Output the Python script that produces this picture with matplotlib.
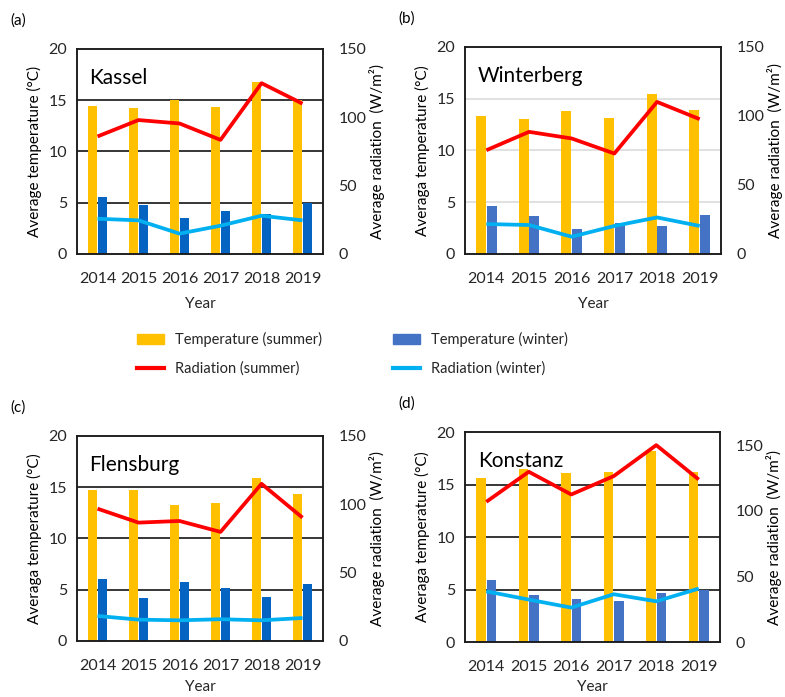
import numpy as np
import matplotlib
matplotlib.use("Agg")
from matplotlib import pyplot as plt
from matplotlib.patches import Patch
from matplotlib.lines import Line2D

plt.rcParams['font.family'] = ['Lato', 'DejaVu Sans']

years = ["2014", "2015", "2016", "2017", "2018", "2019"]

# mean temperature (degC) and radiation (W/m2) per season
kassel_temp_summer = [14.45, 14.2, 15.0, 14.3, 16.8, 15.0]
kassel_temp_winter = [5.6, 4.8, 3.5, 4.2, 3.9, 5.0]
kassel_rad_summer = [86, 98, 95.5, 83.5, 125, 110]
kassel_rad_winter = [25.8, 24.6, 14.9, 20.7, 28, 24.6]

winterberg_temp_summer = [13.3, 13.0, 13.8, 13.15, 15.5, 13.9]
winterberg_temp_winter = [4.65, 3.7, 2.4, 3.0, 2.75, 3.75]
winterberg_rad_summer = [75.2, 88.5, 83.7, 72.8, 110.2, 97.7]
winterberg_rad_winter = [21.7, 21.0, 12.5, 20.3, 26.5, 20.3]

flensburg_temp_summer = [14.7, 14.7, 13.3, 13.5, 15.9, 14.3]
flensburg_temp_winter = [6.0, 4.2, 5.8, 5.2, 4.3, 5.6]
flensburg_rad_summer = [96.8, 86.6, 87.8, 79.8, 115, 90.2]
flensburg_rad_winter = [18.3, 15.6, 15.1, 15.9, 15.1, 16.8]

konstanz_temp_summer = [15.6, 16.5, 16.05, 16.2, 18.15, 16.2]
konstanz_temp_winter = [5.95, 4.5, 4.1, 3.95, 4.65, 5.0]
konstanz_rad_summer = [106.8, 129.7, 112.4, 126.4, 150, 123.8]
konstanz_rad_winter = [38.6, 32.3, 26.2, 36.4, 31, 40.7]

ORANGE = "#FFC000"
DARKBLUE = "#0563C1"
MIDBLUE = "#4472C4"
RED = "#FF0000"
LIGHTBLUE = "#00B0F0"
TXT = "#262626"


def draw_panel(pos, letter, city, t_sum, t_win, r_sum, r_win,
               win_color, grid_color, ylabel, rad_max, xlabelpad=8):
    ax = fig.add_axes(pos)
    x = np.arange(len(years))
    w = 0.23
    ax.bar(x - w / 2 - 0.01, t_sum, w, color=ORANGE, zorder=2)
    ax.bar(x + w / 2 + 0.01, t_win, w, color=win_color, zorder=2)
    ax.set_xlim(-0.5, len(years) - 0.5)
    ax.set_ylim(0, 20)
    ax.set_yticks([0, 5, 10, 15, 20])
    ax.set_xticks(x)
    ax.set_xticklabels(years)
    for yv in [5, 10, 15]:
        ax.axhline(yv, color=grid_color, lw=1.1, zorder=1)
    ax.tick_params(axis='both', length=0, labelsize=11.5, colors=TXT)
    ax.tick_params(axis='x', pad=13)
    ax.tick_params(axis='y', pad=7)
    ax.set_xlabel("Year", fontsize=11, color=TXT, labelpad=xlabelpad)
    ax.set_ylabel(ylabel, fontsize=11, color="black", labelpad=5)
    ax.text(0.05, 0.86, city, transform=ax.transAxes, fontsize=15,
            color="black", ha="left", va="center")

    ax2 = ax.twinx()
    ax2.plot(x, r_sum, color=RED, lw=2.7, solid_capstyle='butt')
    ax2.plot(x, r_win, color=LIGHTBLUE, lw=2.7, solid_capstyle='butt')
    ax2.set_ylim(0, rad_max)
    ax2.set_yticks([0, 50, 100, 150])
    ax2.tick_params(axis='y', length=0, labelsize=11.5, colors=TXT, pad=11)
    ax2.set_ylabel("Average radiation  (W/m²)", fontsize=11, labelpad=2)

    for a in (ax, ax2):
        for s in a.spines.values():
            s.set_color("#1a1a1a")
            s.set_linewidth(1.1)

    fig.text(pos[0] - 0.085, pos[1] + pos[3] + 0.041, letter, fontsize=11,
             ha="left", va="center")
    return ax


fig = plt.figure(figsize=(7.85, 6.97), dpi=100)

draw_panel([0.0981, 0.6356, 0.3134, 0.2941], "(a)", "Kassel",
           kassel_temp_summer, kassel_temp_winter,
           kassel_rad_summer, kassel_rad_winter,
           DARKBLUE, "black", "Average temperature (°C)", 150)
draw_panel([0.5924, 0.6356, 0.3261, 0.2970], "(b)", "Winterberg",
           winterberg_temp_summer, winterberg_temp_winter,
           winterberg_rad_summer, winterberg_rad_winter,
           MIDBLUE, "#D9D9D9", "Averaga temperature (°C)", 150)
draw_panel([0.0981, 0.0804, 0.3134, 0.2941], "(c)", "Flensburg",
           flensburg_temp_summer, flensburg_temp_winter,
           flensburg_rad_summer, flensburg_rad_winter,
           DARKBLUE, "black", "Averaga temperature (°C)", 150, xlabelpad=5)
draw_panel([0.5924, 0.0789, 0.3248, 0.3013], "(d)", "Konstanz",
           konstanz_temp_summer, konstanz_temp_winter,
           konstanz_rad_summer, konstanz_rad_winter,
           MIDBLUE, "black", "Averaga temperature (°C)", 160, xlabelpad=4)

# shared legend, two columns placed separately
col1 = [Patch(color=ORANGE, label="Temperature (summer)"),
        Line2D([], [], color=RED, lw=3, label="Radiation (summer)")]
col2 = [Patch(color=MIDBLUE, label="Temperature (winter)"),
        Line2D([], [], color=LIGHTBLUE, lw=3, label="Radiation (winter)")]
for handles, xpos in [(col1, 137 / 785), (col2, 393 / 785)]:
    fig.legend(handles=handles, loc="center left", bbox_to_anchor=(xpos, 0.4921),
               frameon=False, fontsize=10.5, borderpad=0, borderaxespad=0,
               handlelength=1.85, handletextpad=0.75, labelspacing=1.0,
               labelcolor=TXT)

fig.savefig("out.png", dpi=100)
